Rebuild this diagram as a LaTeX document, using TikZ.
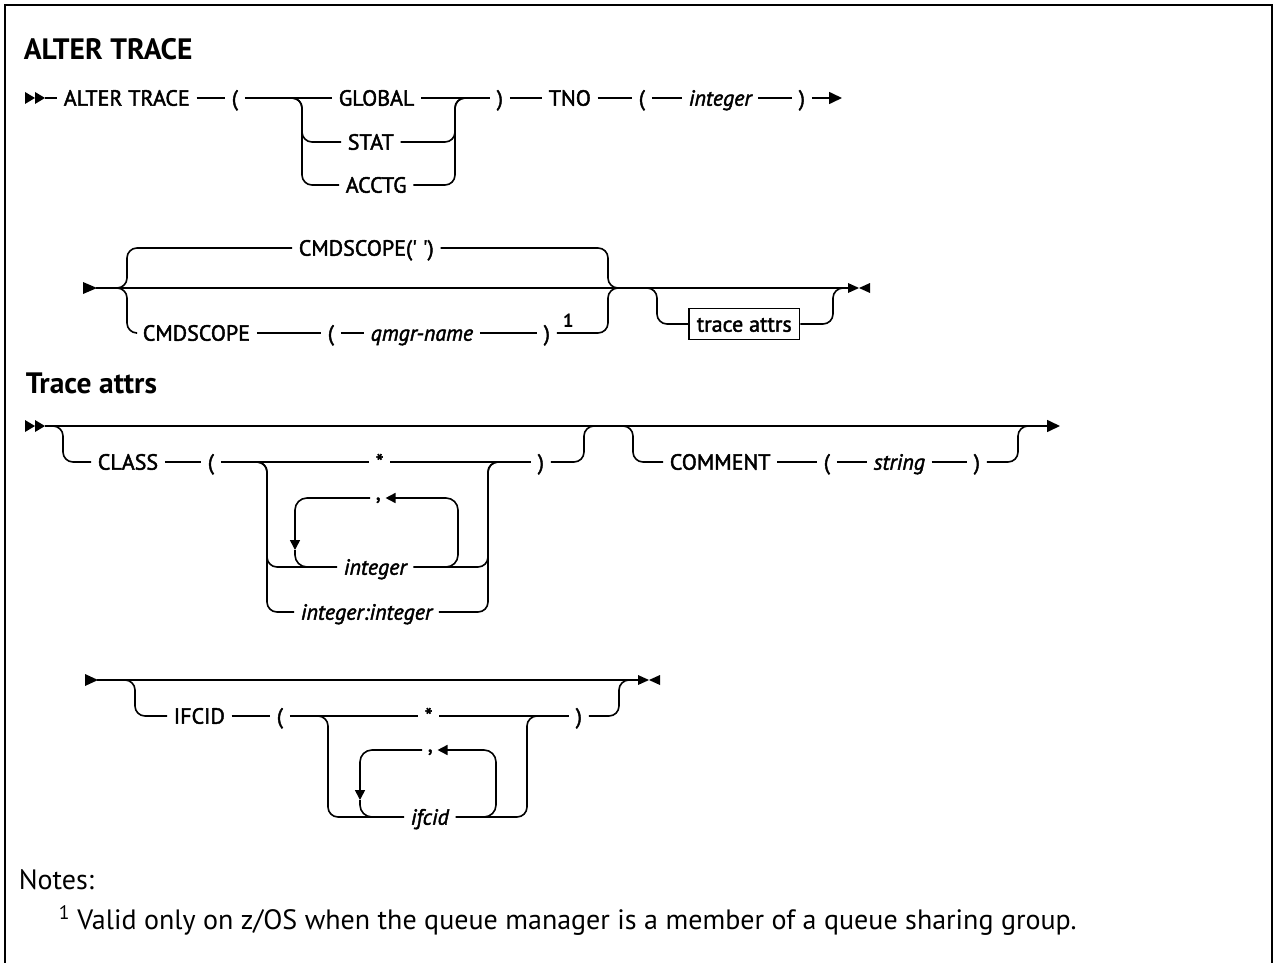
\documentclass[tikz,border=0pt]{standalone}
\usepackage{fontspec}
\setmainfont{PT Sans}
\newfontfamily\dgfam{PT Sans}[FakeBold=2]
\usetikzlibrary{arrows.meta,calc}
\newcommand\dgfont{\dgfam\fontsize{22}{26}\selectfont}
\newcommand\ttlfont{\fontsize{29.5}{34}\selectfont\bfseries}
\newcommand\ntfont{\fontsize{28}{33}\selectfont}
\begin{document}
\begin{tikzpicture}[x=1pt,y=-1pt,line width=1.6pt,
  tk/.style={inner sep=0pt,anchor=west,text height=15.4pt,text depth=0pt,font=\dgfont},
  vr/.style={tk,font=\dgfont\itshape},
  rr/.style={rounded corners=10pt},
  lr/.style={rounded corners=12pt},
  gp/.style={shorten <=6pt,shorten >=6pt},
  gl/.style={shorten <=6pt},
  gr/.style={shorten >=6pt},
  tip/.style={-{Triangle[length=13pt,width=12pt]}},
  stip/.style={-{Triangle[length=10pt,width=10pt]}},
  plain/.style={anchor=base west,inner sep=0pt}]
\useasboundingbox (0,0) rectangle (1274,963);
\draw[line width=2pt] (5,990) -- (5,5) -- (1272,5) -- (1272,990);

% ---------- ALTER TRACE ----------
\node[plain,font=\ttlfont] (tt1) at (23,60) {ALTER TRACE};
\fill (25,92) -- (35,98) -- (25,104) -- cycle;
\fill (35,92) -- (45,98) -- (35,104) -- cycle;
\coordinate (s1) at (45,98);
\node[tk] (at1) at (63,98) {ALTER TRACE};
\node[tk] (lp1) at (231,98) {(};
\node[tk] (glob) at (338,98) {GLOBAL};
\node[tk] (stat) at (347,142) {STAT};
\node[tk] (acct) at (345,185) {ACCTG};
\node[tk] (rp1) at (496,98) {)};
\node[tk] (tno) at (548,98) {TNO};
\node[tk] (lp2) at (638,98) {(};
\node[vr] (int0) at (688,98) {integer};
\node[tk] (rp2) at (798,98) {)};
\coordinate (e1) at (842,98);
\coordinate (b1) at (292,98);
\coordinate (c1) at (465,98);
\draw[gr] (s1) -- (at1.west);
\draw[gp] (at1.east) -- (lp1.west);
\draw[gp] (lp1.east) -- (glob.west);
\draw[rr,gr] (b1) -- ++(10,0) |- (stat.west);
\draw[rr,gr] (b1) -- ++(10,0) |- (acct.west);
\draw[rr,gl] (stat.east) -| ([xshift=-10pt]c1) -- (c1);
\draw[rr,gl] (acct.east) -| ([xshift=-10pt]c1) -- (c1);
\draw[gp] (glob.east) -- (rp1.west);
\draw[gp] (rp1.east) -- (tno.west);
\draw[gp] (tno.east) -- (lp2.west);
\draw[gp] (lp2.east) -- (int0.west);
\draw[gp] (int0.east) -- (rp2.west);
\draw[tip,gl] (rp2.east) -- (e1);

% ---------- CMDSCOPE ----------
\fill (83,282) -- (97,288) -- (83,294) -- cycle;
\coordinate (s2) at (96,288);
\coordinate (b2) at (117,288);
\coordinate (c2) at (618,288);
\node[tk] (cs1) at (298,248) {CMDSCOPE(\textquotesingle\ \textquotesingle)};
\node[tk] (cs2) at (142,333) {CMDSCOPE};
\node[tk] (lp3) at (327,333) {(};
\node[vr] (qm) at (370,333) {qmgr-name};
\node[tk] (rp3) at (543,333) {)};
\node[plain,font=\fontsize{19}{22}\selectfont\bfseries] (fn1) at (562,327) {1};
\coordinate (b3) at (647,288);
\coordinate (c3) at (843,288);
\node[tk,draw,inner xsep=8pt,inner ysep=7.8pt] (ta) at (688,324) {trace attrs};
\coordinate (e2) at (848,288);
\draw (s2) -- (e2);
\fill (848,283) -- (859,288) -- (848,293) -- cycle;
\fill (870,283) -- (859,288) -- (870,293) -- cycle;
\draw[rr,gr] (b2) -- ++(10,0) |- (cs1.west);
\draw[rr,gr] (b2) -- ++(10,0) |- (cs2.west);
\draw[rr,gl] (cs1.east) -| ([xshift=-10pt]c2) -- (c2);
\draw[gp] (cs2.east) -- (lp3.west);
\draw[gp] (lp3.east) -- (qm.west);
\draw[gp] (qm.east) -- (rp3.west);
\draw[rr,gl] (rp3.east) -| ([xshift=-10pt]c2) -- (c2);
\draw[rr] (b3) -- ++(10,0) |- (ta.west);
\draw[rr] (ta.east) -| ([xshift=-10pt]c3) -- (c3);

% ---------- Trace attrs ----------
\node[plain,font=\ttlfont] (tt2) at (25,393) {Trace attrs};
\fill (25,420) -- (35,426) -- (25,432) -- cycle;
\fill (35,420) -- (45,426) -- (35,432) -- cycle;
\coordinate (s3) at (45,426);
\coordinate (e3) at (1060,426);
\draw[tip] (s3) -- (e3);
\coordinate (b4) at (53,426);
\coordinate (c4) at (594,426);
\node[tk] (cls) at (97,462) {CLASS};
\node[tk] (lp4) at (207,462) {(};
\coordinate (b5) at (257,462);
\coordinate (c5) at (498,462);
\node[tk] (st1) at (375,462) {*};
\node[vr] (in1) at (343,567) {integer};
\node[vr] (in2) at (300,612) {integer:integer};
\node[tk] (rp4) at (537,462) {)};
\node[tk] (cm1) at (375,498) {\raisebox{6pt}{,}};
\draw[rr,gr] (b4) -- ++(10,0) |- (cls.west);
\draw[gp] (cls.east) -- (lp4.west);
\draw[gp] (lp4.east) -- (st1.west);
\draw[rr,gr] (b5) -- ++(10,0) |- (in1.west);
\draw[rr,gr] (b5) -- ++(10,0) |- (in2.west);
\draw[rr,gl] (in1.east) -| ([xshift=-10pt]c5) -- (c5);
\draw[rr,gl] (in2.east) -| ([xshift=-10pt]c5) -- (c5);
\draw[gp] (st1.east) -- (rp4.west);
\draw[rr,gl] (rp4.east) -| ([xshift=-10pt]c4) -- (c4);
% repeat loop
\coordinate (lr1) at (446,567);
\coordinate (lr2) at (458,498);
\coordinate (la1) at (295,550);
\coordinate (la2) at (309,567);
\draw[lr,stip,shorten >=4pt] (lr1) -| (lr2) -- (cm1.east);
\draw[lr,stip,shorten <=5pt] (cm1.west) -| (la1);
\draw[lr] (la1) |- (la2);
% COMMENT
\coordinate (b6) at (623,426);
\coordinate (c6) at (1028,426);
\node[tk] (cmt) at (669,462) {COMMENT};
\node[tk] (lp5) at (823,462) {(};
\node[vr] (str) at (873,462) {string};
\node[tk] (rp5) at (973,462) {)};
\draw[rr,gr] (b6) -- ++(10,0) |- (cmt.west);
\draw[gp] (cmt.east) -- (lp5.west);
\draw[gp] (lp5.east) -- (str.west);
\draw[gp] (str.east) -- (rp5.west);
\draw[rr,gl] (rp5.east) -| ([xshift=-10pt]c6) -- (c6);

% ---------- IFCID ----------
\fill (85,674) -- (98,680) -- (85,686) -- cycle;
\coordinate (s4) at (97,680);
\coordinate (e4) at (638,680);
\draw (s4) -- (e4);
\fill (638,675) -- (649,680) -- (638,685) -- cycle;
\fill (660,675) -- (649,680) -- (660,685) -- cycle;
\coordinate (b7) at (125,680);
\coordinate (c7) at (629,680);
\node[tk] (ifc) at (173,716) {IFCID};
\node[tk] (lp6) at (276,716) {(};
\coordinate (b8) at (318,716);
\coordinate (c8) at (537,716);
\node[tk] (st2) at (424,716) {*};
\node[vr] (ifv) at (410,817) {ifcid};
\node[tk] (rp6) at (575,716) {)};
\node[tk] (cm2) at (427,750) {\raisebox{6pt}{,}};
\draw[rr,gr] (b7) -- ++(10,0) |- (ifc.west);
\draw[gp] (ifc.east) -- (lp6.west);
\draw[gp] (lp6.east) -- (st2.west);
\draw[rr,gr] (b8) -- ++(10,0) |- (ifv.west);
\draw[rr,gl] (ifv.east) -| ([xshift=-10pt]c8) -- (c8);
\draw[gp] (st2.east) -- (rp6.west);
\draw[rr,gl] (rp6.east) -| ([xshift=-10pt]c7) -- (c7);
\coordinate (lr3) at (484,817);
\coordinate (lr4) at (496,750);
\coordinate (la3) at (360,800);
\coordinate (la4) at (372,817);
\draw[lr,stip,shorten >=4pt] (lr3) -| (lr4) -- (cm2.east);
\draw[lr,stip,shorten <=5pt] (cm2.west) -| (la3);
\draw[lr] (la3) |- (la4);

% ---------- Notes ----------
\node[plain,font=\ntfont] (nt) at (18,889) {Notes:};
\node[plain,font=\ntfont] (fn) at (58,929) {\textsuperscript{1} Valid only on z/OS when the queue manager is a member of a queue sharing group.};
\end{tikzpicture}
\end{document}
